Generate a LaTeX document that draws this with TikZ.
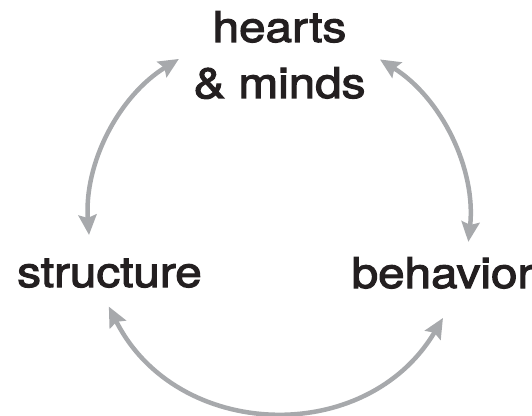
\documentclass[tikz,border=0pt]{standalone}
\usepackage{fontspec}
\setmainfont{TeX Gyre Heros}[FakeBold=2.4]
\usetikzlibrary{arrows.meta}
\definecolor{cyclegray}{HTML}{A7A9AC}
\definecolor{wordblack}{HTML}{231F20}

\begin{document}
\begin{tikzpicture}[x=1pt,y=1pt,
        word/.style={inner sep=0pt, anchor=base, xscale=1.12, text=wordblack,
            font=\fontsize{42.5}{56}\selectfont},
        cyclearrow/.style={draw=cyclegray, line width=4.5pt,
            {Stealth[length=20pt,width=18pt,inset=3pt]}-{Stealth[length=20pt,width=18pt,inset=3pt]}}]
    \useasboundingbox (0,0) rectangle (532,415);
    % Labels
    \node[word, align=center] (hm) at (279.5,317) {hearts\\\& minds};
    \node[word] (st) at (109.5,128) {structure};
    \node[word] (bh) at (442.5,127) {behavior};
    % End points of the arrows on one circle
    \coordinate (hub) at (279,194);
    \foreach \n/\a in {hm-l/121.7, st-t/184.2, hm-r/58, bh-t/-6.3, st-b/206.7, bh-b/329.4}
        \path (hub) ++(\a:190.5) coordinate (\n);
    \draw[cyclearrow] (hm-l) to[bend right=31.25, looseness=0.92] (st-t);
    \draw[cyclearrow] (hm-r) to[bend left=32.15, looseness=0.92] (bh-t);
    \draw[cyclearrow] (st-b) to[bend right=61.35, looseness=1.15] (bh-b);
\end{tikzpicture}
\end{document}
